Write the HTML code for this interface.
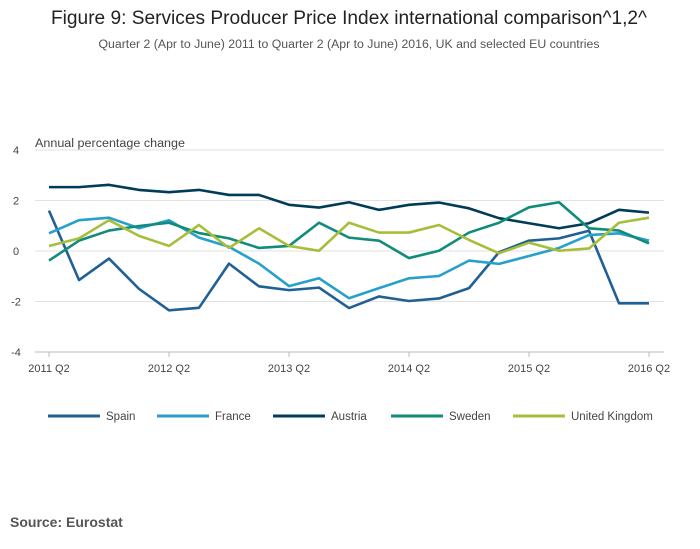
<!DOCTYPE html>
<html><head><meta charset="utf-8"><style>
body{margin:0;background:#fff;}
svg{display:block;font-family:"Liberation Sans",sans-serif;}
</style></head><body>
<svg id="chart" width="700" height="549" viewBox="0 0 700 549">
<text x="349" y="24" font-size="19" fill="#222" text-anchor="middle" textLength="596" lengthAdjust="spacingAndGlyphs">Figure 9: Services Producer Price Index international comparison^1,2^</text>
<text x="349" y="48" font-size="11.5" fill="#555" text-anchor="middle" textLength="501" lengthAdjust="spacingAndGlyphs">Quarter 2 (Apr to June) 2011 to Quarter 2 (Apr to June) 2016, UK and selected EU countries</text>
<text x="35" y="147" font-size="11.5" fill="#444" textLength="150" lengthAdjust="spacingAndGlyphs">Annual percentage change</text>
<g id="grid"></g><g id="series"></g><g id="legend"></g>
<text x="10" y="527" font-size="14" font-weight="bold" fill="#555">Source: Eurostat</text>
</svg>
<script>
const categories=["2011 Q2","2011 Q3","2011 Q4","2012 Q1","2012 Q2","2012 Q3","2012 Q4","2013 Q1","2013 Q2","2013 Q3","2013 Q4","2014 Q1","2014 Q2","2014 Q3","2014 Q4","2015 Q1","2015 Q2","2015 Q3","2015 Q4","2016 Q1","2016 Q2"];
const xTickLabels=["2011 Q2","2012 Q2","2013 Q2","2014 Q2","2015 Q2","2016 Q2"];
const yTicks=[4,2,0,-2,-4];
const seriesNames=["Spain","France","Austria","Sweden","United Kingdom"];
const spain=[1.6,-1.15,-0.3,-1.5,-2.35,-2.25,-0.5,-1.4,-1.55,-1.45,-2.26,-1.8,-1.98,-1.88,-1.47,-0.05,0.41,0.5,0.8,-2.07,-2.07];
const france=[0.7,1.22,1.32,0.9,1.22,0.53,0.17,-0.5,-1.39,-1.08,-1.87,-1.47,-1.08,-0.99,-0.38,-0.51,-0.2,0.12,0.63,0.7,0.41];
const austria=[2.53,2.53,2.62,2.42,2.33,2.42,2.22,2.22,1.83,1.72,1.93,1.63,1.83,1.92,1.69,1.3,1.1,0.9,1.1,1.63,1.52];
const sweden=[-0.38,0.41,0.81,0.99,1.12,0.71,0.5,0.12,0.2,1.12,0.53,0.41,-0.28,0.01,0.73,1.12,1.73,1.93,0.9,0.81,0.3];
const uk=[0.2,0.5,1.22,0.6,0.2,1.03,0.12,0.9,0.2,0.01,1.12,0.73,0.73,1.03,0.44,-0.09,0.33,0.01,0.1,1.12,1.32];
const colors=["#206095","#27a0cc","#003c57","#118c7b","#a8bd3a"];
const NS="http://www.w3.org/2000/svg";
const xS=i=>49+i*30;
const yS=v=>251-v*25.25;
function mk(t,a,p){const e=document.createElementNS(NS,t);for(const k in a)e.setAttribute(k,a[k]);p.appendChild(e);return e;}
const grid=document.getElementById('grid');
yTicks.forEach(v=>{
  const l=mk('line',{x1:35,x2:664,y1:yS(v),y2:yS(v),stroke:v===-4?'#bbb':'#e2e2e2','stroke-width':1},grid);
  
  
  const t=mk('text',{x:16,y:yS(v)+4,'font-size':11,fill:'#444','text-anchor':'middle'},grid);t.textContent=v;
  
  
});
xTickLabels.forEach(lbl=>{
  const i=categories.indexOf(lbl);
  const tk=mk('line',{x1:xS(i),x2:xS(i),y1:352,y2:357,stroke:'#bbb'},grid);
  
  
  const t=mk('text',{x:xS(i),y:372,'font-size':11,fill:'#444','text-anchor':'middle'},grid);t.textContent=lbl;
  
  
});
const sg=document.getElementById('series');
[spain,france,austria,sweden,uk].forEach((d,s)=>{
  const p=mk('polyline',{points:d.map((v,i)=>xS(i)+','+yS(v)).join(' '),fill:'none',stroke:colors[s],'stroke-width':2.6,'stroke-linejoin':'round'},sg);
  
  
});
const lg=document.getElementById('legend');
const lx=[48,157,273,391,513];
seriesNames.forEach((n,s)=>{
  const g=mk('g',{},lg);
  
  
  mk('line',{x1:lx[s],x2:lx[s]+52,y1:416,y2:416,stroke:colors[s],'stroke-width':3},g);
  const t=mk('text',{x:lx[s]+58,y:420,'font-size':11.5,fill:'#444'},g);t.textContent=n;
});
</script>
</body></html>
